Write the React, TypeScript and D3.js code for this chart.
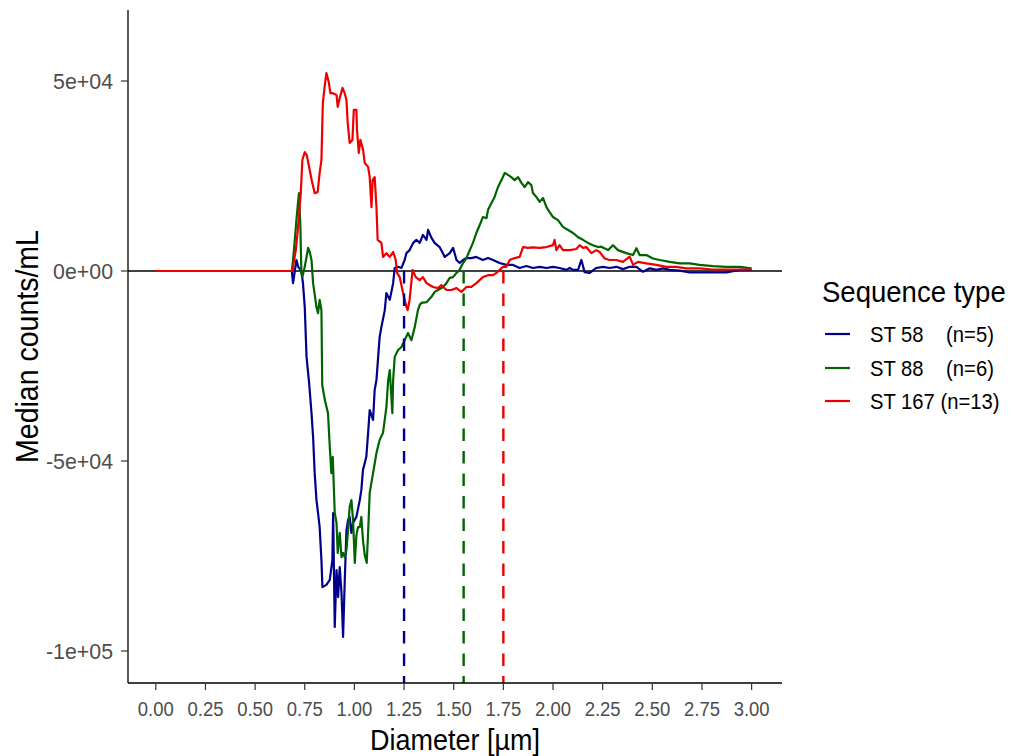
import React from 'react';
import * as d3 from 'd3';

// Canvas and panel geometry
const W = 1012;
const H = 756;
const panel = { left: 128, right: 782, top: 10, bottom: 683 };

// Axis settings
const xDomain: [number, number] = [-0.14, 3.153];
const yDomain: [number, number] = [-108421, 68684];
const xTickValues = [0, 0.25, 0.5, 0.75, 1, 1.25, 1.5, 1.75, 2, 2.25, 2.5, 2.75, 3];
const yTickValues = [-100000, -50000, 0, 50000];
const yTickLabels = ['-1e+05', '-5e+04', '0e+00', '5e+04'];
const xTitle = 'Diameter [µm]';
const yTitle = 'Median counts/mL';

// Legend
const legendTitle = 'Sequence type';
const seriesLabels = ['ST 58    (n=5)', 'ST 88    (n=6)', 'ST 167 (n=13)'];
const seriesColors = ['#00008B', '#006400', '#EE0000'];

// Per-type cut-off diameters (dashed markers)
const cutoffs = [1.25, 1.55, 1.75];

// Median difference curves: [diameter, counts/mL]
const st58: [number, number][] = [
  [0, 0], [0.68, 0], [0.685, 0], [0.691, -3200], [0.695, -1800], [0.708, 2900], [0.717, 1100],
  [0.733, 0], [0.741, -3200], [0.75, -9500], [0.759, -22600], [0.772, -29500], [0.784, -37400],
  [0.792, -43700], [0.8, -53200], [0.809, -60300], [0.817, -63700], [0.825, -67400], [0.834, -76100],
  [0.839, -83200], [0.859, -82600], [0.876, -81300], [0.889, -76100], [0.893, -63700], [0.901, -93700],
  [0.91, -78700], [0.918, -85800], [0.926, -77900], [0.935, -84700], [0.943, -96300], [0.951, -82100],
  [0.96, -68200], [0.968, -65500], [0.976, -64700], [0.985, -68900], [0.993, -66300], [1.01, -64700],
  [1.027, -60300], [1.035, -57600], [1.043, -52400], [1.06, -48900], [1.069, -42600], [1.077, -36600],
  [1.094, -39200], [1.102, -31300], [1.111, -28700], [1.127, -17400], [1.136, -14700], [1.153, -10300],
  [1.161, -5800], [1.178, -7600], [1.195, -3200], [1.203, 800], [1.22, 1100], [1.237, 800],
  [1.253, 2900], [1.262, 4700], [1.278, 5500], [1.296, 7400], [1.312, 8200], [1.329, 7400],
  [1.345, 9500], [1.363, 8200], [1.371, 10800], [1.388, 8700], [1.404, 7400], [1.429, 6300],
  [1.455, 3700], [1.48, 4700], [1.497, 6100], [1.514, 2900], [1.53, 2100], [1.547, 2900],
  [1.564, 3400], [1.589, 3400], [1.614, 3700], [1.647, 2900], [1.673, 3400], [1.698, 2900],
  [1.731, 2100], [1.765, 1600], [1.799, 1600], [1.832, 800], [1.866, 1300], [1.899, 800],
  [1.933, 1100], [1.967, 800], [2.0, 1100], [2.033, 800], [2.067, 300], [2.084, 800],
  [2.101, 300], [2.126, 300], [2.143, 2900], [2.159, -300], [2.185, -500], [2.218, 800],
  [2.252, 1100], [2.285, 800], [2.319, 1100], [2.352, 500], [2.386, 1100], [2.42, 1100],
  [2.453, -200], [2.487, 700], [2.52, 300], [2.554, 700], [2.587, 300], [2.638, 100],
  [2.688, -400], [2.738, -400], [2.805, -400], [2.873, -400], [2.94, 300], [3.0, 300],
];

const st88: [number, number][] = [
  [0, 0], [0.68, 0], [0.685, 0], [0.691, 2900], [0.7, 8200], [0.708, 13400], [0.715, 17400],
  [0.721, 20500], [0.728, 11600], [0.733, -500], [0.738, -1600], [0.75, 1100], [0.767, 6100],
  [0.775, 5000], [0.784, 2900], [0.792, -3200], [0.809, -9500], [0.817, -11100], [0.825, -7600],
  [0.834, -10300], [0.838, -30000], [0.851, -33900], [0.867, -37400], [0.876, -46300], [0.884, -53200],
  [0.891, -48900], [0.901, -63700], [0.91, -66300], [0.916, -74200], [0.926, -68900], [0.935, -75300],
  [0.943, -74200], [0.951, -75300], [0.96, -73400], [0.968, -68200], [0.976, -62100], [0.985, -60300],
  [0.993, -65500], [1.002, -76800], [1.01, -69500], [1.018, -67400], [1.027, -67400], [1.035, -64700],
  [1.043, -70800], [1.052, -74700], [1.062, -76800], [1.069, -68900], [1.077, -58400], [1.094, -53200],
  [1.111, -47900], [1.127, -44500], [1.144, -42600], [1.161, -35800], [1.17, -28700], [1.178, -26100],
  [1.191, -37400], [1.195, -28700], [1.203, -22600], [1.22, -20800], [1.237, -20000], [1.253, -18200],
  [1.27, -16300], [1.287, -18200], [1.304, -14700], [1.32, -10300], [1.329, -8900], [1.337, -8400],
  [1.363, -8200], [1.388, -6800], [1.404, -5500], [1.421, -5000], [1.446, -4200], [1.463, -3200],
  [1.48, -1800], [1.497, -1600], [1.514, -500], [1.53, 300], [1.547, 2100], [1.564, 3400],
  [1.581, 5500], [1.597, 7400], [1.614, 10000], [1.631, 12100], [1.647, 14200], [1.665, 13900],
  [1.673, 16100], [1.69, 17900], [1.706, 19500], [1.723, 22100], [1.74, 23900], [1.757, 25800],
  [1.773, 25300], [1.79, 24700], [1.807, 23900], [1.824, 24700], [1.841, 23200], [1.857, 22100],
  [1.874, 23400], [1.891, 22600], [1.899, 20500], [1.916, 19500], [1.933, 18200], [1.95, 19200],
  [1.967, 16800], [1.983, 15500], [2.0, 14200], [2.025, 13400], [2.05, 11600], [2.076, 10800],
  [2.101, 10000], [2.126, 8900], [2.151, 8200], [2.176, 7400], [2.201, 6800], [2.227, 6300],
  [2.243, 6400], [2.277, 5500], [2.302, 6800], [2.327, 5500], [2.369, 4700], [2.403, 4200],
  [2.42, 6000], [2.436, 4200], [2.47, 4200], [2.503, 3300], [2.537, 2900], [2.587, 2400],
  [2.638, 2000], [2.688, 2000], [2.738, 1600], [2.805, 1300], [2.873, 1100], [2.94, 1100],
  [2.98, 800], [3.0, 700],
];

const st167: [number, number][] = [
  [0, 0], [0.68, 0], [0.688, 0], [0.695, 2400], [0.705, 5500], [0.715, 10800], [0.73, 20500],
  [0.738, 29200], [0.75, 31300], [0.76, 30500], [0.77, 27900], [0.785, 23900], [0.8, 20500],
  [0.815, 20800], [0.825, 25800], [0.834, 29200], [0.841, 44200], [0.851, 48900], [0.859, 52100],
  [0.871, 49700], [0.879, 46800], [0.891, 46800], [0.91, 46300], [0.916, 43200], [0.926, 45500],
  [0.94, 48200], [0.951, 46800], [0.96, 45000], [0.966, 39200], [0.976, 33700], [0.99, 34500],
  [0.997, 42400], [1.01, 42400], [1.013, 37100], [1.022, 31100], [1.03, 34500], [1.044, 31800],
  [1.052, 28400], [1.069, 27400], [1.077, 24700], [1.086, 16800], [1.092, 23900], [1.102, 24700],
  [1.111, 16800], [1.117, 8200], [1.136, 7400], [1.144, 3700], [1.161, 4700], [1.178, 3700],
  [1.195, 5000], [1.208, 2900], [1.215, -500], [1.228, -1600], [1.245, -5800], [1.262, -9500],
  [1.268, -10300], [1.278, -7600], [1.293, 300], [1.309, -1600], [1.329, -2400], [1.345, -1600],
  [1.363, -3200], [1.379, -3700], [1.396, -4200], [1.421, -4500], [1.438, -3700], [1.463, -5000],
  [1.488, -5000], [1.514, -4500], [1.539, -5500], [1.564, -4200], [1.589, -4200], [1.614, -3200],
  [1.647, -1600], [1.673, -1100], [1.698, -1100], [1.715, -500], [1.731, 300], [1.748, 1100],
  [1.765, 1100], [1.782, 2900], [1.807, 3400], [1.832, 3700], [1.849, 6300], [1.874, 6100],
  [1.899, 6200], [1.933, 6100], [1.967, 6300], [2.0, 6800], [2.008, 8200], [2.017, 5500],
  [2.033, 6800], [2.05, 5500], [2.084, 5500], [2.118, 5800], [2.134, 6800], [2.151, 6100],
  [2.168, 6300], [2.193, 4700], [2.218, 5500], [2.235, 5000], [2.26, 3300], [2.285, 2900],
  [2.319, 2900], [2.352, 2400], [2.386, 3800], [2.403, 1600], [2.428, 2400], [2.47, 2000],
  [2.52, 1600], [2.571, 1100], [2.621, 1100], [2.671, 700], [2.738, 700], [2.805, 400],
  [2.873, 400], [2.94, 400], [3.0, 400],
];

const seriesData = [st58, st88, st167];

const FONT = "'Liberation Sans', Arial, sans-serif";

// Text squeezed horizontally (the typeface renders a little narrow)
function NarrowText(props: {
  x: number;
  y: number;
  sx: number;
  size: number;
  anchor?: 'start' | 'middle' | 'end';
  fill?: string;
  rotate?: number;
  children: React.ReactNode;
}) {
  const { x, y, sx, size, anchor = 'start', fill = '#000', rotate = 0, children } = props;
  return (
    <text
      transform={`translate(${x},${y}) rotate(${rotate}) scale(${sx},1)`}
      textAnchor={anchor}
      fontSize={size}
      fill={fill}
      style={{ whiteSpace: 'pre' }}
    >
      {children}
    </text>
  );
}

export default function App() {
  const x = d3.scaleLinear().domain(xDomain).range([panel.left, panel.right]);
  const y = d3.scaleLinear().domain(yDomain).range([panel.bottom, panel.top]);
  const line = d3
    .line<[number, number]>()
    .x((d) => x(d[0]))
    .y((d) => y(d[1]));

  const legendX = 822;
  const legendKeyY = [334, 368, 401];

  return (
    <svg
      width={W}
      height={H}
      viewBox={`0 0 ${W} ${H}`}
      style={{ position: 'absolute', left: 0, top: 0, background: '#fff' }}
      fontFamily={FONT}
    >
      <rect x={0} y={0} width={W} height={H} fill="#fff" />

      {/* zero reference line */}
      <line x1={panel.left} x2={panel.right} y1={y(0)} y2={y(0)} stroke="#000" strokeWidth={1.3} />

      {/* series curves */}
      {seriesData.map((d, i) => (
        <path
          key={i}
          d={line(d) ?? ''}
          fill="none"
          stroke={seriesColors[i]}
          strokeWidth={2.2}
          strokeLinejoin="round"
        />
      ))}

      {/* cut-off markers from zero down to the panel floor */}
      {cutoffs.map((c, i) => (
        <line
          key={i}
          x1={x(c)}
          x2={x(c)}
          y1={y(0)}
          y2={panel.bottom}
          stroke={seriesColors[i]}
          strokeWidth={2.4}
          strokeDasharray="12.5 10"
        />
      ))}

      {/* axes */}
      <line x1={panel.left} x2={panel.left} y1={panel.top} y2={panel.bottom} stroke="#000" strokeWidth={1.3} />
      <line x1={panel.left} x2={panel.right} y1={panel.bottom} y2={panel.bottom} stroke="#000" strokeWidth={1.3} />

      {yTickValues.map((v, i) => (
        <g key={v}>
          <line x1={panel.left - 7} x2={panel.left} y1={y(v)} y2={y(v)} stroke="#333" strokeWidth={1.2} />
          <NarrowText x={113} y={y(v) + 8} sx={0.97} size={22} anchor="end" fill="#4D4D4D">
            {yTickLabels[i]}
          </NarrowText>
        </g>
      ))}

      {xTickValues.map((v) => (
        <g key={v}>
          <line x1={x(v)} x2={x(v)} y1={panel.bottom} y2={panel.bottom + 7} stroke="#333" strokeWidth={1.2} />
          <NarrowText x={x(v)} y={715.5} sx={0.88} size={21} anchor="middle" fill="#4D4D4D">
            {d3.format('.2f')(v)}
          </NarrowText>
        </g>
      ))}

      <NarrowText x={(panel.left + panel.right) / 2} y={750} sx={0.93} size={29} anchor="middle">
        {xTitle}
      </NarrowText>
      <NarrowText x={38} y={(panel.top + panel.bottom) / 2} sx={0.92} size={31} anchor="middle" rotate={-90}>
        {yTitle}
      </NarrowText>

      {/* legend */}
      <NarrowText x={legendX} y={302} sx={0.95} size={29}>
        {legendTitle}
      </NarrowText>
      {seriesLabels.map((lab, i) => (
        <g key={lab}>
          <line
            x1={legendX + 3}
            x2={legendX + 28}
            y1={legendKeyY[i]}
            y2={legendKeyY[i]}
            stroke={seriesColors[i]}
            strokeWidth={2.2}
          />
          <NarrowText x={870} y={legendKeyY[i] + 8} sx={0.92} size={22}>
            {lab}
          </NarrowText>
        </g>
      ))}
    </svg>
  );
}
